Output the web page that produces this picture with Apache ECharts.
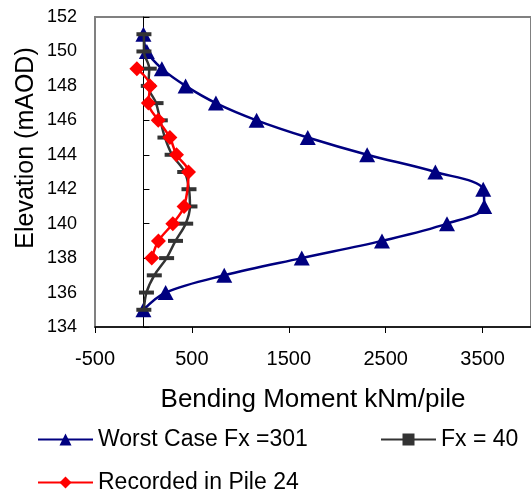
<!DOCTYPE html>
<html>
<head>
<meta charset="utf-8">
<script src="https://cdn.jsdelivr.net/npm/echarts@6/dist/echarts.min.js"></script>
<style>
  html, body { margin: 0; padding: 0; background: #fff; }
  #chart { width: 531px; height: 495px; }
</style>
</head>
<body>
<div id="chart"></div>
<script>
// elevations (mAOD)
var elevations = [151, 150, 149, 148, 147, 146, 145, 144, 143, 142, 141, 140, 139, 138, 137, 136, 135];
// bending moment, kNm/pile
var worstCase = [0, 35, 190, 435, 748, 1168, 1696, 2309, 3013, 3507, 3517, 3133, 2462, 1634, 834, 229, 0];
var fx40 = [5, 5, 60, 50, 130, 174, 222, 296, 426, 470, 480, 436, 331, 239, 112, 31, 4];
var recordedElev = [149, 148, 147, 146, 145, 144, 143, 141, 140, 139, 138];
var recorded = [-68, 68, 51, 153, 273, 341, 465, 419, 303, 155, 86];

var seriesNames = ['Worst Case Fx =301', 'Fx = 40', 'Recorded in Pile 24'];
var xTicks = { min: -500, max: 4000, step: 1000 };
var yTicks = { min: 134, max: 152, step: 2 };

var font = 'Liberation Sans, Arial, sans-serif';

function pairs(xs, ys) {
    var out = [];
    for (var i = 0; i < xs.length; i++) {
        out.push([xs[i], ys[i]]);
    }
    return out;
}

function legendAt(name, left, top) {
    return {
        data: [name],
        left: left,
        top: top,
        padding: 0,
        itemWidth: 55,
        itemHeight: 15,
        selectedMode: false,
        textStyle: { fontFamily: font, fontSize: 23, color: '#000' }
    };
}

var chart = echarts.init(document.getElementById('chart'), null, { renderer: 'canvas' });

var option = {
    animation: false,
    backgroundColor: '#fff',
    textStyle: { fontFamily: font },
    grid: {
        show: true,
        left: 95,
        top: 17,
        width: 441,
        height: 310,
        borderColor: '#808080',
        borderWidth: 2,
        backgroundColor: 'transparent'
    },
    legend: [
        legendAt(seriesNames[0], 37, 428),
        legendAt(seriesNames[1], 380, 428),
        legendAt(seriesNames[2], 37, 471)
    ],
    xAxis: {
        type: 'value',
        min: xTicks.min,
        max: xTicks.max,
        interval: xTicks.step,
        name: 'Bending Moment kNm/pile',
        nameLocation: 'middle',
        nameGap: 60,
        nameTextStyle: { fontFamily: font, fontSize: 26, color: '#000' },
        axisLine: { onZero: false, lineStyle: { color: '#000', width: 1.5 } },
        axisTick: { show: true, length: 6, lineStyle: { color: '#000' } },
        axisLabel: {
            fontFamily: font, fontSize: 20, color: '#000', margin: 22, showMaxLabel: false,
            formatter: function (v) { return String(v); }
        },
        splitLine: { show: false }
    },
    yAxis: [
        {
            type: 'value',
            position: 'left',
            min: yTicks.min,
            max: yTicks.max,
            interval: yTicks.step,
            name: 'Elevation (mAOD)',
            nameLocation: 'middle',
            nameGap: 56,
            nameMoveOverlap: false,
            nameTextStyle: { fontFamily: font, fontSize: 25, color: '#000', padding: [0, 0, 0, 48] },
            axisLine: { show: false, onZero: false },
            axisTick: { show: false },
            axisLabel: { fontFamily: font, fontSize: 18, color: '#000', margin: 18 },
            splitLine: { show: false }
        },
        {
            type: 'value',
            position: 'left',
            min: yTicks.min,
            max: yTicks.max,
            interval: yTicks.step,
            axisLine: { show: true, onZero: true, lineStyle: { color: '#000', width: 1 } },
            axisTick: { show: true, inside: true, length: 6, lineStyle: { color: '#000' } },
            axisLabel: { show: false },
            splitLine: { show: false }
        }
    ],
    series: [
        {
            name: seriesNames[0],
            type: 'line',
            data: pairs(worstCase, elevations),
            smooth: 0.35,
            symbol: 'triangle',
            symbolSize: [16, 15],
            lineStyle: { color: '#000080', width: 2.5 },
            itemStyle: { color: '#000080', borderWidth: 0 },
            z: 2
        },
        {
            name: seriesNames[1],
            type: 'line',
            data: pairs(fx40, elevations),
            smooth: 0.35,
            symbol: 'rect',
            symbolSize: [15, 4],
            lineStyle: { color: '#333333', width: 2.5 },
            itemStyle: { color: '#333333', borderWidth: 0 },
            z: 3
        },
        {
            name: seriesNames[2],
            type: 'line',
            data: pairs(recorded, recordedElev),
            smooth: 0.35,
            symbol: 'diamond',
            symbolSize: [15, 15],
            lineStyle: { color: '#ff0000', width: 2.5 },
            itemStyle: { color: '#ff0000', borderWidth: 0 },
            z: 4
        }
    ]
};

chart.setOption(option);
</script>
</body>
</html>
